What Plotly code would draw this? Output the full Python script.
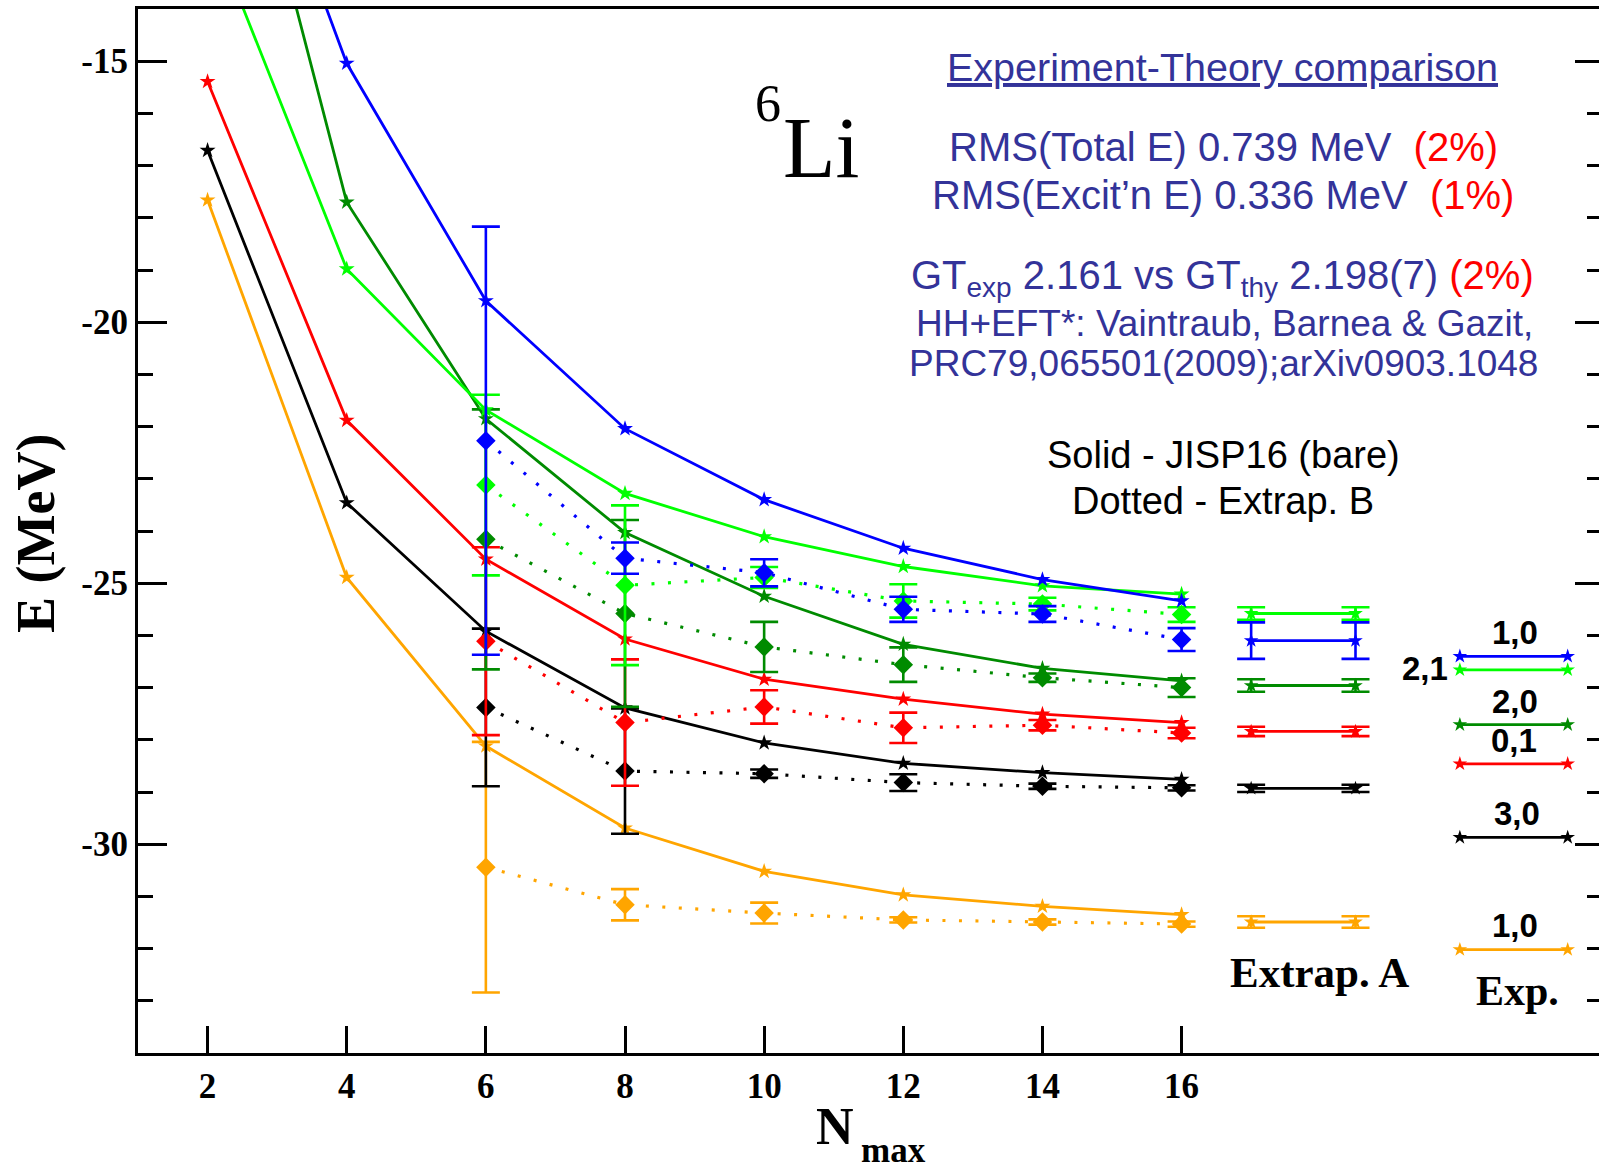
import plotly.graph_objects as go

# ---------------- data ----------------
nmax = [2, 4, 6, 8, 10, 12, 14, 16]
nmax_b = [6, 8, 10, 12, 14, 16]
extrapA_x = [17.0, 18.5]
exp_x = [20.0, 21.55]

x_tickvals = [2, 4, 6, 8, 10, 12, 14, 16]
x_ticktext = ["2", "4", "6", "8", "10", "12", "14", "16"]
y_tickvals = [-15, -20, -25, -30]
y_ticktext = ["-15", "-20", "-25", "-30"]

# Solid: JISP16 (bare)
bare_orange = [-17.66, -24.89, -28.12, -29.69, -30.52, -30.97, -31.19, -31.35]
bare_black = [-16.71, -23.46, -25.92, -27.39, -28.06, -28.45, -28.63, -28.76]
bare_red = [-15.39, -21.88, -24.54, -26.07, -26.84, -27.22, -27.51, -27.67]
bare_dkgreen = [-7.43, -17.70, -21.85, -24.03, -25.25, -26.17, -26.63, -26.87]
bare_ltgreen = [-12.27, -18.98, -21.68, -23.28, -24.11, -24.68, -25.05, -25.21]
bare_blue = [-7.84, -15.04, -19.59, -22.04, -23.40, -24.33, -24.93, -25.34]

# Dotted: Extrap. B (with uncertainties)
extB_orange = [-30.44, -31.16, -31.32, -31.45, -31.49, -31.53]
extB_orange_err = [2.40, 0.30, 0.20, 0.05, 0.05, 0.05]
extB_black = [-27.38, -28.60, -28.65, -28.82, -28.89, -28.92]
extB_black_err = [1.51, 1.20, 0.08, 0.16, 0.05, 0.05]
extB_red = [-26.11, -27.67, -27.37, -27.77, -27.72, -27.87]
extB_red_err = [1.80, 1.21, 0.32, 0.29, 0.10, 0.10]
extB_dkgreen = [-24.16, -25.58, -26.22, -26.56, -26.81, -27.00]
extB_dkgreen_err = [2.49, 1.79, 0.48, 0.33, 0.08, 0.18]
extB_ltgreen = [-23.12, -25.04, -24.89, -25.34, -25.40, -25.60]
extB_ltgreen_err = [1.73, 1.53, 0.20, 0.32, 0.12, 0.14]
extB_blue = [-22.27, -24.52, -24.80, -25.50, -25.59, -26.08]
extB_blue_err = [4.10, 0.30, 0.26, 0.24, 0.15, 0.22]

# Extrap. A
extA = {"orange": -31.49, "black": -28.93, "red": -27.84, "dkgreen": -26.96, "ltgreen": -25.58, "blue": -26.10}
extA_err = {"orange": 0.11, "black": 0.07, "red": 0.09, "dkgreen": 0.12, "ltgreen": 0.12, "blue": 0.35}

# Experiment
exp_E = {"orange": -32.02, "black": -29.87, "red": -28.46, "dkgreen": -27.71, "ltgreen": -26.66, "blue": -26.40}
exp_labels = {"orange": "1,0", "black": "3,0", "red": "0,1", "dkgreen": "2,0", "ltgreen": "2,1", "blue": "1,0"}

colors = {"orange": "#ffa500", "black": "#000000", "red": "#ff0000",
          "dkgreen": "#008b00", "ltgreen": "#00ff00", "blue": "#0000ff"}

bare = {"orange": bare_orange, "black": bare_black, "red": bare_red,
        "dkgreen": bare_dkgreen, "ltgreen": bare_ltgreen, "blue": bare_blue}
extB = {"orange": (extB_orange, extB_orange_err), "black": (extB_black, extB_black_err),
        "red": (extB_red, extB_red_err), "dkgreen": (extB_dkgreen, extB_dkgreen_err),
        "ltgreen": (extB_ltgreen, extB_ltgreen_err), "blue": (extB_blue, extB_blue_err)}
order = ["orange", "black", "red", "dkgreen", "ltgreen", "blue"]

# ---------------- layout geometry ----------------
W, H = 1599, 1170
ML, MR, MT, MB = 138, 0, 9, 117
X0, X1 = 1, 22
Y0, Y1 = -34, -14


def px_x(px):
    return (px - ML) / (W - ML - MR)


def px_y(py):
    return (H - MB - py) / (H - MT - MB)


SERIF = "Liberation Serif"
SANS = "Liberation Sans"
TXT_BLUE = "#333399"

fig = go.Figure()

for k in order:
    c = colors[k]
    fig.add_trace(go.Scatter(x=nmax, y=bare[k], mode="lines+markers",
                             line=dict(color=c, width=2.8),
                             marker=dict(symbol="star", size=12, color=c),
                             showlegend=False, hoverinfo="skip"))
    vals, errs = extB[k]
    fig.add_trace(go.Scatter(x=nmax_b, y=vals, mode="lines+markers",
                             line=dict(color=c, width=3.2, dash="3px,13.5px"),
                             marker=dict(symbol="diamond", size=15, color=c),
                             error_y=dict(type="data", array=errs, color=c, thickness=2.6, width=14),
                             showlegend=False, hoverinfo="skip"))
    fig.add_trace(go.Scatter(x=extrapA_x, y=[extA[k], extA[k]], mode="lines+markers",
                             line=dict(color=c, width=2.8),
                             marker=dict(symbol="star", size=11, color=c),
                             error_y=dict(type="data", array=[extA_err[k], extA_err[k]], color=c,
                                          thickness=2.6, width=14),
                             showlegend=False, hoverinfo="skip"))
    fig.add_trace(go.Scatter(x=exp_x, y=[exp_E[k], exp_E[k]], mode="lines+markers",
                             line=dict(color=c, width=2.8),
                             marker=dict(symbol="star", size=11, color=c),
                             yaxis="y2", showlegend=False, hoverinfo="skip"))

tickfont = dict(family=SERIF, size=35, color="black", weight="bold")

fig.update_layout(
    width=W, height=H,
    margin=dict(l=ML, r=MR, t=MT, b=MB, pad=0),
    paper_bgcolor="white", plot_bgcolor="white",
    showlegend=False,
    xaxis=dict(range=[X0, X1], tickmode="array", tickvals=x_tickvals, ticktext=x_ticktext,
               ticks="inside", ticklen=27, tickwidth=2.5, tickcolor="black",
               showline=True, linewidth=3, linecolor="black", mirror=True,
               showgrid=False, zeroline=False, tickfont=tickfont),
    yaxis=dict(range=[Y0, Y1], tickmode="array", tickvals=y_tickvals, ticktext=y_ticktext,
               ticks="inside", ticklen=29, tickwidth=2.5, tickcolor="black",
               minor=dict(tickmode="array", tickvals=list(range(-34, -13)), ticks="inside",
                          ticklen=15, tickwidth=2.5, tickcolor="black", showgrid=False),
               showline=True, linewidth=3, linecolor="black", mirror=False,
               showgrid=False, zeroline=False, tickfont=tickfont),
    yaxis2=dict(range=[Y0, Y1], overlaying="y", side="right", anchor="x",
                tickmode="array", tickvals=y_tickvals, ticks="inside", ticklen=24,
                tickwidth=2.5, tickcolor="black", showticklabels=False,
                minor=dict(tickmode="array", tickvals=list(range(-34, -13)), ticks="inside",
                           ticklen=12, tickwidth=2.5, tickcolor="black", showgrid=False),
                showline=False, showgrid=False, zeroline=False),
)

annots = []


def add_text(text, px, py, family, size, color="black", weight="normal", angle=0, xanchor="center"):
    annots.append(dict(text=text, x=px_x(px), y=px_y(py), xref="paper", yref="paper",
                       xanchor=xanchor, yanchor="middle", showarrow=False, textangle=angle,
                       font=dict(family=family, size=size, color=color, weight=weight)))


# axis titles
add_text("E (MeV)", 36, 534, SERIF, 54, weight="bold", angle=-90)
add_text("N", 835, 1126, SERIF, 52, weight="bold")
add_text("max", 893, 1150, SERIF, 35, weight="bold")

# 6Li
add_text("6", 768, 104, SERIF, 52)
add_text("Li", 821, 148, SERIF, 86)

# info text
red = "<span style='color:#ff0000'>"
add_text("<u>Experiment-Theory comparison</u>", 1222, 67, SANS, 39.5, TXT_BLUE)
add_text("RMS(Total E) 0.739 MeV\u00a0\u00a0" + red + "(2%)</span>", 1223, 147, SANS, 40, TXT_BLUE)
add_text("RMS(Excit\u2019n E) 0.336 MeV\u00a0\u00a0" + red + "(1%)</span>", 1223, 195, SANS, 40, TXT_BLUE)
add_text("GT<sub>exp</sub> 2.161 vs GT<sub>thy</sub> 2.198(7) " + red + "(2%)</span>", 1222, 278, SANS, 40, TXT_BLUE)
add_text("HH+EFT*: Vaintraub, Barnea &amp; Gazit,", 1224, 323, SANS, 37, TXT_BLUE)
add_text("PRC79,065501(2009);arXiv0903.1048", 1223, 363, SANS, 37, TXT_BLUE)
add_text("Solid - JISP16 (bare)", 1223, 455, SANS, 38)
add_text("Dotted - Extrap. B", 1223, 501, SANS, 38)

# Extrap A / Exp labels
add_text("Extrap. A", 1319, 972, SERIF, 43, weight="bold")
add_text("Exp.", 1517, 991, SERIF, 42, weight="bold")

label_pos = {"blue": (1515, 632), "ltgreen": (1425, 668), "dkgreen": (1515, 702),
             "red": (1514, 740), "black": (1517, 813), "orange": (1515, 925)}
for k in order:
    lx, ly = label_pos[k]
    add_text(exp_labels[k], lx, ly, SANS, 33, weight="bold")

fig.update_layout(annotations=annots)

fig.write_html("out.html")
